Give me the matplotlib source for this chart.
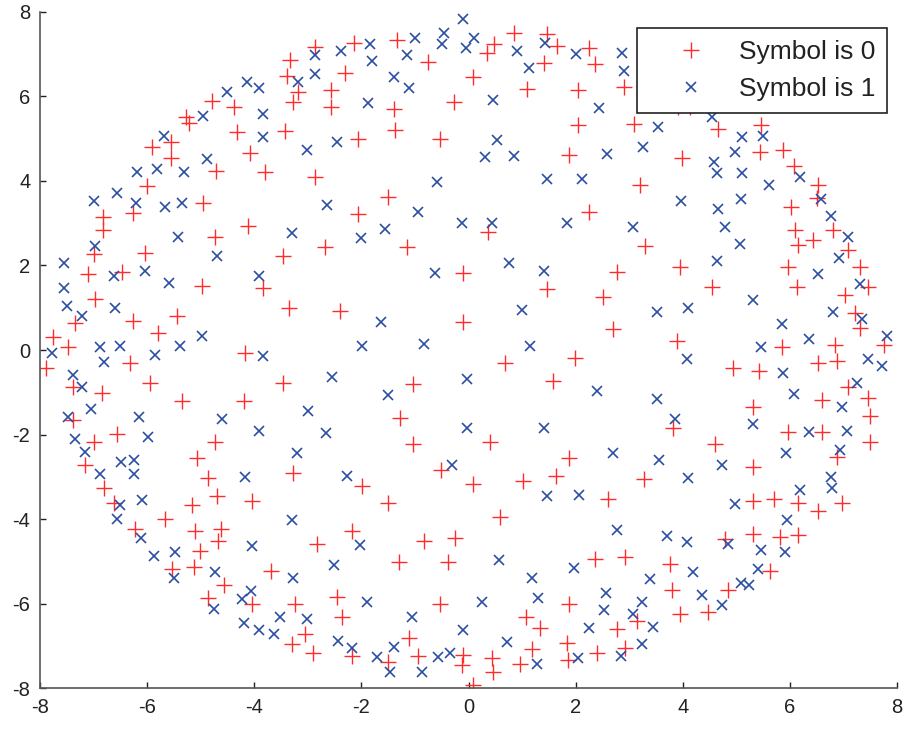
from matplotlib import pyplot as plt

plt.rcParams["font.family"] = ["Liberation Sans", "DejaVu Sans"]
plt.rcParams["axes.unicode_minus"] = False

# received points decided as symbol 0 (red +)
sym0_x = [
    -4.79, -4.38, -5.27, -5.22, -5.55, -5.91, -5.55, -4.71, -4.32, -4.08, -6.01, -6.82, -6.26, -4.96, -6.82, -4.12, -4.73,
    -2.87, -2.13, -1.34, -3.33, -0.75, -3.39, -2.31, -3.18, -2.57, -3.27, -2.57, -1.40, -0.28, -3.43, -2.06, -1.37, -0.53, -3.80, -2.87, -1.50, -2.06,
    0.84, 1.46, 0.48, 0.34, 1.66, 2.24, 1.40, 2.36, 0.09, 1.10, 2.05, 2.90, 2.05, 3.09, 1.88, 3.98, 3.20, 2.24, 0.37, 3.92,
    4.14, 4.66, 5.46, 5.44, 5.88, 6.07, 6.53, 6.50, 6.02, 6.10, 6.81, 6.44,
    -7.00, -6.04, -7.11, -6.46, -4.98, -6.97, -6.26, -5.45, -7.35, -5.79, -7.75, -7.47, -7.88, -6.32, -4.17, -7.38, -6.85, -5.95, -5.35, -4.20, -7.38, -6.57, -7.00, -4.73, -5.07, -7.16,
    -3.46, -2.68, -1.15, -0.10, -3.83, -3.36, -2.40, -0.10, -3.46, -1.03, -1.28, -1.03,
    3.30, 2.77, 3.94, 1.47, 2.51, 2.69, 3.89, 1.99, 0.68, 1.58, 3.82, 0.40, 1.88,
    6.16, 7.09, 5.97, 7.31, 4.54, 6.13, 7.45, 7.03, 7.22, 7.31, 5.85, 6.84, 7.75, 6.53, 6.87, 4.94, 5.42, 7.09, 6.59, 7.45, 5.32, 7.50, 5.97, 6.59, 7.50, 4.60, 6.87, 5.32,
    -4.86, -6.80, -4.70, -6.61, -5.17, -4.05, -5.67, -6.23, -5.11, -4.62, -4.67, -5.01, -5.54, -5.12, -4.56, -4.86, -4.05,
    -0.51, -3.27, -1.98, -1.50, -2.18, -2.83, -0.84, -0.25, -1.30, -0.39, -3.69, -2.46, -3.24, -2.36, -0.53, -1.12, -3.05, -3.30, -2.90, -2.17, -1.50, -0.94, -0.10, -0.13,
    0.09, 1.01, 1.63, 3.28, 2.61, 0.59, 2.36, 2.92, 3.76, 3.79, 1.88, 1.07, 1.34, 2.77, 3.14, 3.95, 0.43, 0.96, 1.18, 1.83, 1.86, 2.39, 2.92, 0.46, 0.09,
    5.32, 5.71, 6.16, 6.53, 6.97, 4.78, 5.32, 5.82, 6.16, 5.63, 4.85, 4.47,
]
sym0_y = [
    5.90, 5.76, 5.51, 5.37, 4.93, 4.81, 4.54, 4.24, 5.17, 4.67, 3.87, 3.14, 3.25, 3.49, 2.84, 2.93, 2.68,
    7.16, 7.26, 7.34, 6.86, 6.82, 6.49, 6.55, 6.11, 6.15, 5.88, 5.74, 5.70, 5.88, 5.19, 4.99, 5.21, 4.99, 4.22, 4.10, 3.63, 3.22,
    7.51, 7.48, 7.24, 7.02, 7.20, 7.14, 6.80, 6.76, 6.47, 6.17, 6.15, 6.22, 5.33, 5.35, 4.62, 4.54, 3.91, 3.27, 2.80, 5.76,
    5.76, 5.22, 5.33, 4.69, 4.73, 4.36, 3.91, 3.59, 3.39, 2.84, 2.84, 2.60,
    2.27, 2.30, 1.80, 1.85, 1.51, 1.20, 0.69, 0.80, 0.63, 0.40, 0.30, 0.08, -0.43, -0.31, -0.08, -0.87, -1.01, -0.77, -1.21, -1.20, -1.66, -1.99, -2.17, -2.17, -2.56, -2.72,
    2.22, 2.43, 2.43, 1.82, 1.46, 1.00, 0.92, 0.67, -0.77, -0.80, -1.62, -2.22,
    2.45, 1.85, 1.96, 1.44, 1.25, 0.49, 0.22, -0.20, -0.30, -0.73, -1.85, -2.17, -2.56,
    2.49, 2.37, 1.96, 1.96, 1.48, 1.48, 1.48, 1.30, 0.87, 0.51, 0.08, 0.12, 0.12, -0.30, -0.25, -0.43, -0.49, -0.88, -1.18, -1.14, -1.34, -1.56, -1.93, -1.93, -2.17, -2.22, -2.54, -2.76,
    -3.02, -3.26, -3.45, -3.63, -3.68, -3.57, -4.00, -4.24, -4.28, -4.24, -4.52, -4.76, -5.18, -5.13, -5.55, -5.88, -6.00,
    -2.84, -2.92, -3.21, -3.63, -4.28, -4.58, -4.52, -4.46, -5.01, -5.01, -5.23, -5.84, -6.02, -6.31, -6.02, -6.81, -6.73, -6.97, -7.16, -7.24, -7.38, -7.24, -7.22, -7.46,
    -3.16, -3.10, -2.98, -3.05, -3.53, -3.95, -4.95, -4.89, -5.07, -5.68, -6.02, -6.31, -6.59, -6.60, -6.41, -6.26, -7.28, -7.42, -7.08, -6.94, -7.34, -7.18, -7.06, -7.61, -7.93,
    -3.57, -3.53, -3.63, -3.81, -3.63, -4.47, -4.36, -4.42, -4.38, -5.23, -5.68, -6.21,
]

# received points decided as symbol 1 (blue x)
sym1_x = [
    -4.14, -4.51, -4.95, -5.68, -4.88, -6.19, -5.82, -5.31, -6.57, -7.00, -6.21, -5.67, -5.35, -5.43,
    -0.10, -0.46, -1.00, -0.50, -0.05, -1.84, -2.38, -2.87, -1.15, -1.81, -2.87, -3.18, -1.40, -1.11, -3.92, -1.87, -3.83, -3.83, -2.46, -3.02, -0.59, -2.65, -0.94, -0.13, -3.30, -1.56, -2.01,
    0.10, 0.90, 1.43, 2.01, 2.86, 1.12, 2.90, 0.46, 2.44, 3.54, 0.53, 3.26, 0.31, 0.84, 2.58, 1.47, 2.11, 3.96, 0.43, 1.83, 3.08,
    4.54, 5.10, 5.49, 4.98, 4.59, 4.63, 5.10, 5.61, 6.19, 5.09, 6.58, 4.66, 6.77, 4.78, 7.09,
    -6.97, -4.70, -7.55, -6.61, -6.04, -5.60, -7.55, -7.49, -6.60, -7.22, -4.98, -7.78, -6.88, -6.51, -5.39, -5.85, -6.80, -7.38, -7.22, -7.04, -7.47, -6.16, -4.61, -7.35, -5.98, -7.16, -6.49, -6.24,
    -0.63, -3.92, -1.63, -1.99, -0.84, -3.83, -2.54, -0.03, -1.51, -2.99, -3.92, -2.67, -0.03, -3.21, -0.31,
    0.76, 1.40, 0.99, 3.51, 1.15, 2.39, 3.51, 3.86, 1.40, 2.69, 3.56,
    5.07, 4.63, 6.92, 6.53, 7.31, 5.32, 4.09, 6.81, 7.34, 5.85, 6.36, 7.81, 5.46, 4.07, 7.45, 7.72, 5.88, 6.07, 7.25, 6.97, 5.32, 6.36, 7.06, 5.92, 6.94, 4.73,
    -6.88, -6.24, -4.17, -6.09, -6.51, -6.57, -6.11, -5.87, -5.48, -5.49, -4.73, -4.05, -4.06, -4.23, -4.76, -4.20,
    -2.27, -3.30, -2.03, -2.51, -3.27, -1.90, -3.52, -3.02, -1.05, -3.92, -3.64, -2.44, -2.18, -1.40, -0.10, -1.71, -1.47, -0.87, -0.57, -0.35,
    1.47, 2.07, 2.77, 3.70, 0.56, 1.96, 1.18, 3.38, 0.25, 1.30, 2.57, 2.53, 3.23, 3.08, 2.24, 3.45, 0.71, 3.23, 1.27, 2.05, 2.84,
    4.10, 4.07, 6.77, 6.78, 6.19, 4.98, 5.94, 4.85, 5.46, 5.90, 4.20, 5.41, 5.09, 5.24, 4.35, 4.73,
]
sym1_y = [
    6.35, 6.11, 5.54, 5.07, 4.51, 4.22, 4.28, 4.21, 3.72, 3.53, 3.49, 3.39, 3.49, 2.68,
    7.83, 7.51, 7.38, 7.24, 7.14, 7.24, 7.08, 6.98, 6.98, 6.85, 6.53, 6.35, 6.47, 6.19, 6.19, 5.85, 5.59, 5.03, 4.93, 4.73, 3.98, 3.43, 3.27, 3.00, 2.78, 2.86, 2.64,
    7.38, 7.08, 7.27, 7.01, 7.04, 6.67, 6.61, 5.92, 5.72, 5.27, 4.97, 4.80, 4.56, 4.60, 4.64, 4.04, 4.04, 3.53, 3.01, 3.01, 2.90,
    5.51, 5.03, 5.07, 4.69, 4.46, 4.18, 4.18, 3.91, 4.10, 3.57, 3.57, 3.33, 3.16, 2.92, 2.68,
    2.46, 2.22, 2.07, 1.75, 1.88, 1.59, 1.46, 1.04, 0.99, 0.80, 0.33, -0.08, 0.06, 0.09, 0.09, -0.13, -0.28, -0.59, -0.87, -1.40, -1.58, -1.59, -1.64, -2.11, -2.05, -2.42, -2.64, -2.60,
    1.83, 1.75, 0.67, 0.09, 0.14, -0.14, -0.65, -0.69, -1.07, -1.44, -1.91, -1.96, -1.85, -2.43, -2.72,
    2.07, 1.88, 0.95, 0.91, 0.09, -0.96, -1.17, -1.63, -1.85, -2.43, -2.60,
    2.51, 2.11, 2.17, 1.80, 1.56, 1.18, 0.99, 0.91, 0.73, 0.62, 0.25, 0.33, 0.06, -0.22, -0.22, -0.38, -0.55, -1.03, -0.79, -1.34, -1.75, -1.93, -1.91, -2.43, -2.37, -2.72,
    -2.94, -2.94, -3.00, -3.55, -3.68, -4.00, -4.44, -4.87, -4.77, -5.39, -5.26, -4.63, -5.70, -5.89, -6.13, -6.47,
    -2.98, -4.02, -4.62, -5.10, -5.39, -5.97, -6.31, -6.37, -6.31, -6.63, -6.71, -6.89, -7.06, -7.02, -6.63, -7.26, -7.63, -7.63, -7.26, -7.16,
    -3.45, -3.42, -4.26, -4.40, -4.97, -5.15, -5.39, -5.42, -5.97, -5.86, -5.74, -6.15, -5.97, -6.26, -6.59, -6.55, -6.92, -6.97, -7.44, -7.28, -7.24,
    -3.04, -4.55, -3.00, -3.26, -3.31, -3.65, -4.02, -4.58, -4.73, -4.77, -5.25, -5.18, -5.52, -5.56, -5.80, -6.04,
]

ticks = [-8, -6, -4, -2, 0, 2, 4, 6, 8]

fig = plt.figure(figsize=(9.05, 7.31), dpi=100)
ax = fig.add_axes([0.0442, 0.0588, 0.947, 0.9248])

ax.plot(sym0_x, sym0_y, "+", color="#ff2a2a", markersize=11, markeredgewidth=1.0, label="Symbol is 0")
ax.plot(sym1_x, sym1_y, "x", color="#2b4ea2", markersize=6.5, markeredgewidth=1.2, label="Symbol is 1")

ax.set_xlim(-8, 8)
ax.set_ylim(-8, 8)
ax.set_xticks(ticks)
ax.set_yticks(ticks)
ax.tick_params(direction="in", length=4, width=1, labelsize=14.5, colors="#222222", pad=7)

# only left/bottom axis lines
ax.spines["top"].set_visible(False)
ax.spines["right"].set_visible(False)
for side in ["left", "bottom"]:
    ax.spines[side].set_color("#555555")
    ax.spines[side].set_linewidth(1.2)

leg = ax.legend(
    loc="upper right",
    bbox_to_anchor=(887 / 905, 1 - 28 / 731),
    bbox_transform=fig.transFigure,
    borderaxespad=0,
    fontsize=19,
    handlelength=3.2,
    handletextpad=0.2,
    borderpad=0.45,
    labelspacing=0.5,
    fancybox=False,
    framealpha=1,
    edgecolor="#222222",
)
leg.get_frame().set_linewidth(1.2)
for t in leg.get_texts():
    t.set_color("#222222")

plt.savefig("out.png", dpi=100)
